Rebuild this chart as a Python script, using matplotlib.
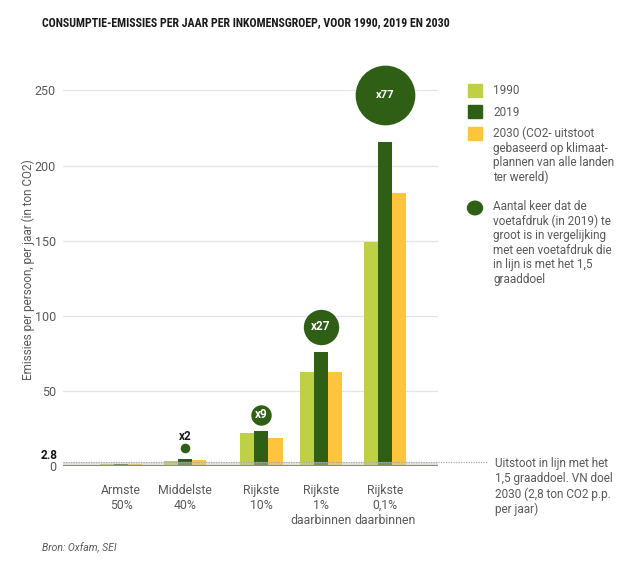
import matplotlib
matplotlib.use("Agg")
import matplotlib.pyplot as plt
from matplotlib.patches import Rectangle, Circle
from matplotlib import font_manager
import numpy as np

plt.rcParams['font.family'] = ['Roboto', 'DejaVu Sans']

# ---- data ----
groups = ["Armste\n50%", "Middelste\n40%", "Rijkste\n10%", "Rijkste\n1%\ndaarbinnen", "Rijkste\n0,1%\ndaarbinnen"]
v1990 = [1.2, 3.5, 22.2, 62.4, 148.8]
v2019 = [1.4, 4.8, 23.3, 75.7, 215.4]
v2030 = [1.0, 3.8, 18.7, 62.4, 181.7]
multipliers = [None, 2, 9, 27, 77]
mult_labels = ["", "x2", "x9", "x27", "x77"]
target = 2.8
yticks = [0, 50, 100, 150, 200, 250]
series_labels = ["1990", "2019", "2030 (CO2- uitstoot\ngebaseerd op klimaat-\nplannen van alle landen\nter wereld)"]
circle_label = "Aantal keer dat de\nvoetafdruk (in 2019) te\ngroot is in vergelijking\nmet een voetafdruk die\nin lijn is met het 1,5\ngraaddoel"
target_label = "Uitstoot in lijn met het\n1,5 graaddoel. VN doel\n2030 (2,8 ton CO2 p.p.\nper jaar)"
title = "CONSUMPTIE-EMISSIES PER JAAR PER INKOMENSGROEP, VOOR 1990, 2019 EN 2030"

# ---- style ----
c1990 = "#bfd047"
c2019 = "#2f5f15"
c2030 = "#fdc43c"
gray_txt = "#595959"


def pick_font(cands):
    for c in cands:
        try:
            font_manager.findfont(font_manager.FontProperties(family=c), fallback_to_default=False)
            return c
        except Exception:
            continue
    return "DejaVu Sans"


title_font = pick_font(["DejaVu Sans Condensed", "Liberation Sans Narrow", "Roboto Condensed", "Roboto"])

W, H = 624, 565
fig = plt.figure(figsize=(W / 100, H / 100), dpi=100)
ax_left, ax_right = 63 / W, 438 / W
y0_px, ytop_px = 466, 466 - 270 * 1.5024
ax = fig.add_axes([ax_left, 1 - y0_px / H, ax_right - ax_left, (y0_px - ytop_px) / H])

xpos = np.array([0, 1, 2.195, 3.125, 4.125])
bw = 0.219
ax.set_xlim(-0.906, 4.953)
ax.set_ylim(0, 270)

ax.bar(xpos - bw, v1990, bw, color=c1990, zorder=2)
ax.bar(xpos, v2019, bw, color=c2019, zorder=2)
ax.bar(xpos + bw, v2030, bw, color=c2030, zorder=2)

# grid
for t in yticks[1:]:
    ax.axhline(t, color="#e4e4e4", lw=0.9, zorder=0)

# target band
ax.axhspan(0, target, color="#c8c8bc", alpha=0.5, zorder=3, lw=0)
ax.plot([-0.906, -0.906 + (488 - 63) / 64], [target, target], ls=(0, (1, 1)),
        color="#a8a8a0", lw=0.9, clip_on=False, zorder=4)
ax.axhline(0, color="#8a8a80", lw=1.5, zorder=4)

# circles
circle_y = [None, 12, 34, 92.6, 247]
for x, m, lab, cy in zip(xpos, multipliers, mult_labels, circle_y):
    if m is None:
        continue
    ax.scatter([x], [cy], s=24 * m, color=c2019, zorder=5, linewidths=0)
    if m < 5:
        ax.text(x, cy + 7.5, lab, ha="center", va="center", fontsize=8.5,
                fontweight="bold", color="#1a1a1a", zorder=6)
    else:
        ax.text(x, cy, lab, ha="center", va="center", fontsize=8.5 if m < 50 else 8,
                fontweight="bold", color="white", zorder=6)

# axes styling
for s in ax.spines.values():
    s.set_visible(False)
ax.set_yticks(yticks)
ax.set_yticklabels([str(t) for t in yticks])
ax.tick_params(axis="y", length=0, pad=5, labelsize=9, labelcolor=gray_txt)
ax.set_xticks(xpos)
ax.set_xticklabels(groups, linespacing=1.2)
ax.tick_params(axis="x", length=0, pad=13, labelsize=8.8, labelcolor=gray_txt)
ax.text(-0.906 - 5 / 64, target, "2.8", ha="right", va="bottom", fontsize=8.5,
        fontweight="bold", color="#111111")

ax.set_ylabel("Emissies per persoon, per jaar (in ton CO2)", fontsize=8.5,
              color=gray_txt)
ax.yaxis.set_label_coords(-(63 - 35) / 375, 0.5 + (466 - 270 - (466 - ytop_px) / 2) / (466 - ytop_px))

# title, fitted to the reference width
tt = fig.text(42 / W, 1 - 23 / H, title, family=[title_font, 'DejaVu Sans'], fontweight="bold",
              fontsize=9.3, color="#1a1a1a", ha="left", va="center")
r = fig.canvas.get_renderer()
wpx = tt.get_window_extent(renderer=r).width
tt.set_fontsize(min(9.3, 9.3 * 413 / wpx))

# source
fig.text(42 / W, 1 - 548 / H, "Bron: Oxfam, SEI", fontsize=7.5, style="italic",
         color=gray_txt, ha="left", va="center")

# legend (manual)
leg_y = [91, 112, 133]
for yc, col, lab in zip(leg_y, [c1990, c2019, c2030], series_labels):
    fig.patches.append(Rectangle((468 / W, 1 - (yc + 6.5) / H), 14 / W, 13 / H,
                                 transform=fig.transFigure, color=col))
    if "\n" in lab:
        fig.text(493 / W, 1 - (yc - 6) / H, lab, fontsize=8.5, color=gray_txt,
                 ha="left", va="top", linespacing=1.15)
    else:
        fig.text(493 / W, 1 - yc / H, lab, fontsize=8.5, color=gray_txt,
                 ha="left", va="center")

fig.patches.append(Circle((475 / W, 1 - 208 / H), 7.5 / W, transform=fig.transFigure,
                          color=c2019))
fig.text(493 / W, 1 - 200 / H, circle_label, fontsize=8.5, color=gray_txt,
         ha="left", va="top", linespacing=1.15)

fig.text(495 / W, 1 - 457 / H, target_label, fontsize=8.5, color=gray_txt,
         ha="left", va="top", linespacing=1.2)

fig.savefig("out.png", dpi=100, facecolor="white")
